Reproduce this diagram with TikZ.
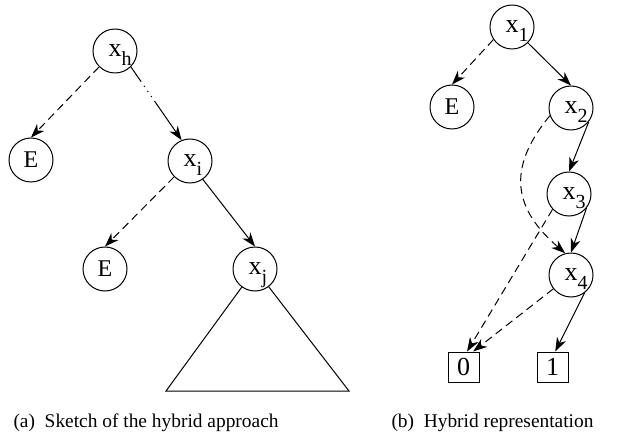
\documentclass[tikz,border=0pt]{standalone}
\usepackage{fontspec}
\setmainfont{Liberation Serif}
\usetikzlibrary{arrows.meta}
\newcommand{\xsub}[1]{x\rlap{\raisebox{-4.5pt}[0pt][0pt]{\fontsize{10}{11}\selectfont #1}}}

\begin{document}
\begin{tikzpicture}
[x=0.5pt,y=-0.5pt,line width=0.5pt,%
  vertex/.style={shape=circle,draw,inner sep=0pt,minimum size=22pt,font=\fontsize{13}{14}\selectfont},%
  empty/.style={vertex,font=\fontsize{12}{13}\selectfont},%
  terminal/.style={shape=rectangle,draw,inner sep=0pt,minimum width=15.5pt,minimum height=15pt,font=\fontsize{13}{14}\selectfont},%
  caption/.style={anchor=base west,inner sep=0pt,font=\fontsize{9.7}{11}\selectfont},%
  arr/.style={-{Stealth[length=7pt,width=5pt,inset=2.2pt]}},%
  low/.style={arr,dash pattern=on 4pt off 2.5pt},%
  skip/.style={arr,dash pattern=on 9pt off 2.5pt on 0.6pt off 2.5pt on 0.6pt off 2.5pt on 0.6pt off 2.5pt on 30pt}]
\useasboundingbox (0,0) rectangle (631,438);
% (a) sketch
\node[vertex] (xh) at (115,51) {\xsub{h}};
\node[empty] (eh) at (31,160) {E};
\node[vertex] (xi) at (190,161) {\xsub{i}};
\node[empty] (ei) at (105,269) {E};
\node[vertex] (xj) at (255,269) {\xsub{j}};
\coordinate (bl) at (166,391);
\coordinate (br) at (349,391);
\draw[low] (xh.225) -- (eh.north);
\draw[skip] (xh.-45) -- (xi.112);
\draw[low] (xi.225) -- (ei.north);
\draw[arr] (xi.-55) -- (xj.north);
\draw (xj) -- (bl) -- (br) -- (xj);
% (b) hybrid representation
\node[vertex] (ra) at (512,27) {\xsub{1}};
\node[empty] (re) at (452,107) {E};
\node[vertex] (rb) at (571,108) {\xsub{2}};
\node[vertex] (rc) at (569,194) {\xsub{3}};
\node[vertex] (rd) at (571,275) {\xsub{4}};
\node[terminal] (zero) at (463.5,367) {0};
\node[terminal] (one) at (552.5,367) {1};
\draw[low] (ra.214) -- (re.north);
\draw[arr] (ra.-45) -- (rb.north);
\draw[arr] (rb.-38) -- (rc.north);
\draw[arr] (rc.-39) -- (rd.north);
\draw[low] (rb.200) .. controls (505,170) and (515,210) .. (rd.105);
\draw[low] (rc.223) -- (zero.77);
\draw[low] (rd.218) -- (zero.58);
\draw[arr] (rd.-53) -- (one.80);
% captions
\node[caption] (capa) at (13,427) {(a)\ \ Sketch of the hybrid approach};
\node[caption] (capb) at (391,427) {(b)\ \ Hybrid representation};
\end{tikzpicture}
\end{document}
